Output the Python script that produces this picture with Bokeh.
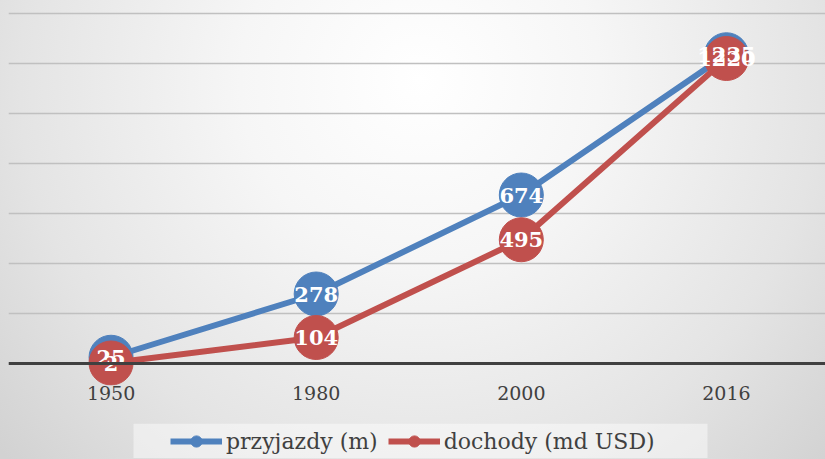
from bokeh.plotting import figure
from bokeh.layouts import column
from bokeh.models import (ColumnDataSource, Range1d, Span, Legend, LegendItem,
                          SingleIntervalTicker, FixedTicker, BoxAnnotation)
from bokeh.core.properties import value
from bokeh.embed import file_html
from bokeh.resources import INLINE

# ---- data ----
years = ["1950", "1980", "2000", "2016"]
arrivals = [25, 278, 674, 1235]      # przyjazdy (m)
receipts = [2, 104, 495, 1220]       # dochody (md USD)
series_names = ["przyjazdy (m)", "dochody (md USD)"]
y_ticks_step = 200

BLUE = "#4f81bd"
RED = "#c0504d"
TXT = "#404040"
SERIF = "DejaVu Serif"

idx = list(range(len(years)))
src_a = ColumnDataSource(dict(x=idx, y=arrivals, lab=[str(v) for v in arrivals]))
src_r = ColumnDataSource(dict(x=idx, y=receipts, lab=[str(v) for v in receipts]))

p = figure(frame_width=817, frame_height=385,
           x_range=Range1d(-0.5, 3.483), y_range=Range1d(-88, 1452),
           output_backend="svg", toolbar_location=None,
           min_border_left=8, min_border_right=0, min_border_top=0, min_border_bottom=0)

p.border_fill_color = None
p.background_fill_color = None
p.outline_line_color = None

# axes
p.yaxis.visible = False
xa = p.xaxis[0]
xa.ticker = FixedTicker(ticks=idx)
xa.major_label_overrides = {i: y for i, y in zip(idx, years)}
xa.axis_line_color = None
xa.major_tick_line_color = None
xa.minor_tick_line_color = None
xa.major_tick_out = 0
xa.major_tick_in = 0
xa.major_label_standoff = 0
xa.major_label_text_font = SERIF
xa.major_label_text_font_size = "19px"
xa.major_label_text_color = TXT

p.xgrid.visible = False
p.ygrid.ticker = SingleIntervalTicker(interval=y_ticks_step)
p.ygrid.grid_line_color = "#c0c0c0"
p.ygrid.grid_line_width = 1.5

p.add_layout(Span(location=0, dimension="width", line_color=TXT, line_width=3))

# series
lb = p.line("x", "y", source=src_a, line_color=BLUE, line_width=6)
sb = p.scatter("x", "y", source=src_a, size=44, fill_color=BLUE, line_color=BLUE)
lr = p.line("x", "y", source=src_r, line_color=RED, line_width=6)
sr = p.scatter("x", "y", source=src_r, size=44, fill_color=RED, line_color=RED)

for src in (src_a, src_r):
    p.text("x", "y", text="lab", source=src, text_align="center", text_baseline="middle",
           text_color="white", text_font=value(SERIF), text_font_style="bold",
           text_font_size="21px")

# ---- legend strip (separate small figure below) ----
q = figure(width=825, height=56, x_range=Range1d(0, 1), y_range=Range1d(0, 1),
           x_axis_type=None, y_axis_type=None, output_backend="svg",
           toolbar_location=None,
           min_border_left=8, min_border_right=0, min_border_top=21, min_border_bottom=0)
q.border_fill_color = None
q.background_fill_color = None
q.outline_line_color = None
q.grid.visible = False
q.add_layout(BoxAnnotation(left=125, right=699, left_units="screen", right_units="screen",
                           fill_color="white", fill_alpha=0.45, line_color=None))
# legend-only renderers, kept outside the visible range
off = dict(x=[-5], y=[-5])
qlb = q.line("x", "y", source=ColumnDataSource(off), line_color=BLUE, line_width=6)
qsb = q.scatter("x", "y", source=ColumnDataSource(off), fill_color=BLUE, line_color=BLUE)
qlr = q.line("x", "y", source=ColumnDataSource(off), line_color=RED, line_width=6)
qsr = q.scatter("x", "y", source=ColumnDataSource(off), fill_color=RED, line_color=RED)

legend = Legend(items=[LegendItem(label=series_names[0], renderers=[qlb, qsb]),
                       LegendItem(label=series_names[1], renderers=[qlr, qsr])],
                orientation="horizontal", location=(162, 3),
                label_text_font=SERIF, label_text_font_size="22px",
                label_text_color=TXT, glyph_width=52, glyph_height=28,
                label_standoff=4, spacing=10, padding=0, margin=0,
                background_fill_alpha=0, border_line_color=None)
q.add_layout(legend)

layout = column(p, q, spacing=0)

try:
    from bokeh.models import GlobalInlineStyleSheet
    layout.stylesheets = [GlobalInlineStyleSheet(css=(
        "html { background: radial-gradient(circle at 420px 80px, #ffffff 0px, "
        "#f6f6f6 180px, #e4e4e4 400px, #d2d2d2 560px); min-height: 100%; }"))]
except Exception:
    pass

open("out.html", "w").write(file_html(layout, INLINE))
